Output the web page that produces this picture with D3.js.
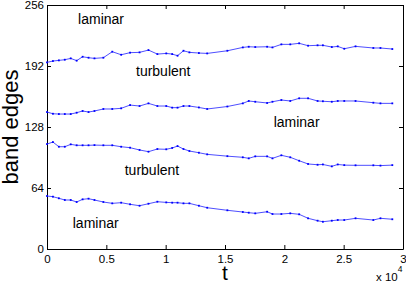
<!DOCTYPE html>
<html>
<head>
<meta charset="utf-8">
<script src="https://cdn.jsdelivr.net/npm/d3@7"></script>
<style>
  html, body { margin: 0; padding: 0; background: #fff; }
  svg { display: block; font-family: "Liberation Sans", Arial, Helvetica, sans-serif; }
</style>
</head>
<body>
<svg id="chart" width="406" height="283"></svg>
<script>
// sample times (t)
const times = [0, 500, 1000, 1500, 2000, 2500, 3000, 3500, 4000, 4750, 5500, 6250, 7000, 7800, 8550, 9300,
  10050, 10550, 11000, 11500, 12000, 12800, 13500, 15200, 16500, 17000, 17550, 18550, 19000, 19750,
  20500, 21250, 22000, 22800, 23250, 24000, 24500, 25050, 26000, 27500, 28100, 29100];

// band edges, top to bottom
const edge1 = [195.8, 197.2, 197.9, 198.6, 200, 197.6, 201.7, 200.7, 200, 200.7, 207, 203.8, 206, 206.3, 208.7, 204.5,
  205.2, 204.5, 202.8, 208, 206.3, 205.6, 205.2, 208, 211.5, 212.2, 211.9, 212.2, 211.5, 214.7,
  214.7, 215.8, 213.3, 213.7, 213.7, 211.9, 212.6, 210.1, 212.6, 210.9, 210.9, 209.8];
const edge2 = [143.7, 141.9, 141.6, 141.6, 141.6, 143, 144.8, 143.7, 144.8, 146.9, 146.9, 147.6, 151, 150, 152.8, 150,
  150, 148.3, 148.3, 150, 150, 148.5, 146.9, 149.5, 152.8, 155.3, 154.5, 153.2, 154.5, 156.3,
  155.3, 158.1, 158.1, 155.3, 155, 154.5, 155.3, 155.3, 155.3, 153.5, 152.8, 152.8];
const edge3 = [110.1, 112.2, 107.3, 107.3, 109.8, 108.8, 108.8, 108.8, 109, 108.8, 108.8, 107.3, 106.3, 103.9, 102.1, 104.9,
  104.6, 106, 108, 104.9, 102.8, 101, 99.3, 97.4, 96.2, 95.1, 97.2, 97.2, 95.1, 98.3,
  96.2, 92.6, 89.2, 88.4, 88.7, 86.7, 88.7, 88, 87.8, 87.8, 87.5, 88];
const edge4 = [55.6, 54.9, 53.2, 51.4, 51.4, 49.3, 52.1, 52.8, 51.4, 49.3, 47.9, 48.6, 46.9, 45.4, 47.5, 49.6,
  48.9, 48.6, 48.6, 47.9, 47.9, 45.4, 43.3, 40.6, 38.8, 38.1, 37.4, 39.1, 36.7, 36.7,
  37.4, 36.4, 32.2, 29.7, 28.6, 29.7, 30.4, 30.4, 32.2, 30.4, 32.2, 31.2];

const yTicks = [0, 64, 128, 192, 256];
const xTicks = [0, 5000, 10000, 15000, 20000, 25000, 30000];

// region labels (t, value of baseline)
const labelText = ["laminar", "turbulent", "laminar", "turbulent", "laminar"];
const labelT = [2620, 7500, 19100, 6550, 2170];
const labelV = [236, 182, 128, 78, 21.7];

const margin = { left: 47, right: 3, top: 5, bottom: 34 };
const width = 406, height = 283;

const svg = d3.select("#chart");

const x = d3.scaleLinear().domain([0, 30000]).range([margin.left, width - margin.right]);
const y = d3.scaleLinear().domain([0, 256]).range([height - margin.bottom, margin.top]);

// axes on all four sides, ticks pointing in
const fmt = d => String(d / 1e4);
svg.append("g")
  .attr("transform", "translate(0," + y(0) + ")")
  .call(d3.axisBottom(x).tickValues(xTicks).tickFormat(fmt).tickSizeInner(-4).tickSizeOuter(0).tickPadding(6));
svg.append("g")
  .attr("transform", "translate(0," + y(256) + ")")
  .call(d3.axisTop(x).tickValues(xTicks).tickFormat("").tickSizeInner(-4).tickSizeOuter(0));
svg.append("g")
  .attr("transform", "translate(" + x(0) + ",0)")
  .call(d3.axisLeft(y).tickValues(yTicks).tickSizeInner(-4).tickSizeOuter(0).tickPadding(3));
svg.append("g")
  .attr("transform", "translate(" + x(30000) + ",0)")
  .call(d3.axisRight(y).tickValues(yTicks).tickFormat("").tickSizeInner(-4).tickSizeOuter(0));

svg.selectAll(".tick text")
  .attr("font-size", 11.5)
  .attr("font-family", "Liberation Sans, Arial, sans-serif")
  .attr("fill", "#000");
svg.selectAll(".domain, .tick line").attr("stroke", "#000").attr("stroke-width", 1);

// band edge lines
const line = d3.line().x((d, i) => x(times[i])).y(d => y(d));
const series = [edge1, edge2, edge3, edge4];

series.forEach(s => {
  svg.append("path")
    .datum(s)
    .attr("fill", "none")
    .attr("stroke", "#3a3aff")
    .attr("stroke-width", 0.9)
    .attr("d", line);

  svg.append("g").selectAll("rect")
    .data(s)
    .enter()
    .append("rect")
    .attr("x", (d, i) => x(times[i]) - 0.9)
    .attr("y", d => y(d) - 0.9)
    .attr("width", 1.8)
    .attr("height", 1.8)
    .attr("fill", "#0000ff");
});

// region labels
svg.append("g").selectAll("text")
  .data(labelText)
  .enter()
  .append("text")
  .attr("x", (d, i) => x(labelT[i]))
  .attr("y", (d, i) => y(labelV[i]))
  .attr("font-size", 14)
  .attr("fill", "#000")
  .text(d => d);

// axis titles
svg.append("text")
  .attr("x", (x(0) + x(30000)) / 2)
  .attr("y", 280)
  .attr("text-anchor", "middle")
  .attr("font-size", 21)
  .text("t");

svg.append("text")
  .attr("transform", "translate(18," + y(128) + ") rotate(-90)")
  .attr("text-anchor", "middle")
  .attr("font-size", 22)
  .text("band edges");

// exponent
const ex = svg.append("text")
  .attr("x", 376)
  .attr("y", 281)
  .attr("font-size", 11.5)
  .text("x 10");
ex.append("tspan")
  .attr("dy", -9)
  .attr("font-size", 8.5)
  .text("4");
</script>
</body>
</html>
